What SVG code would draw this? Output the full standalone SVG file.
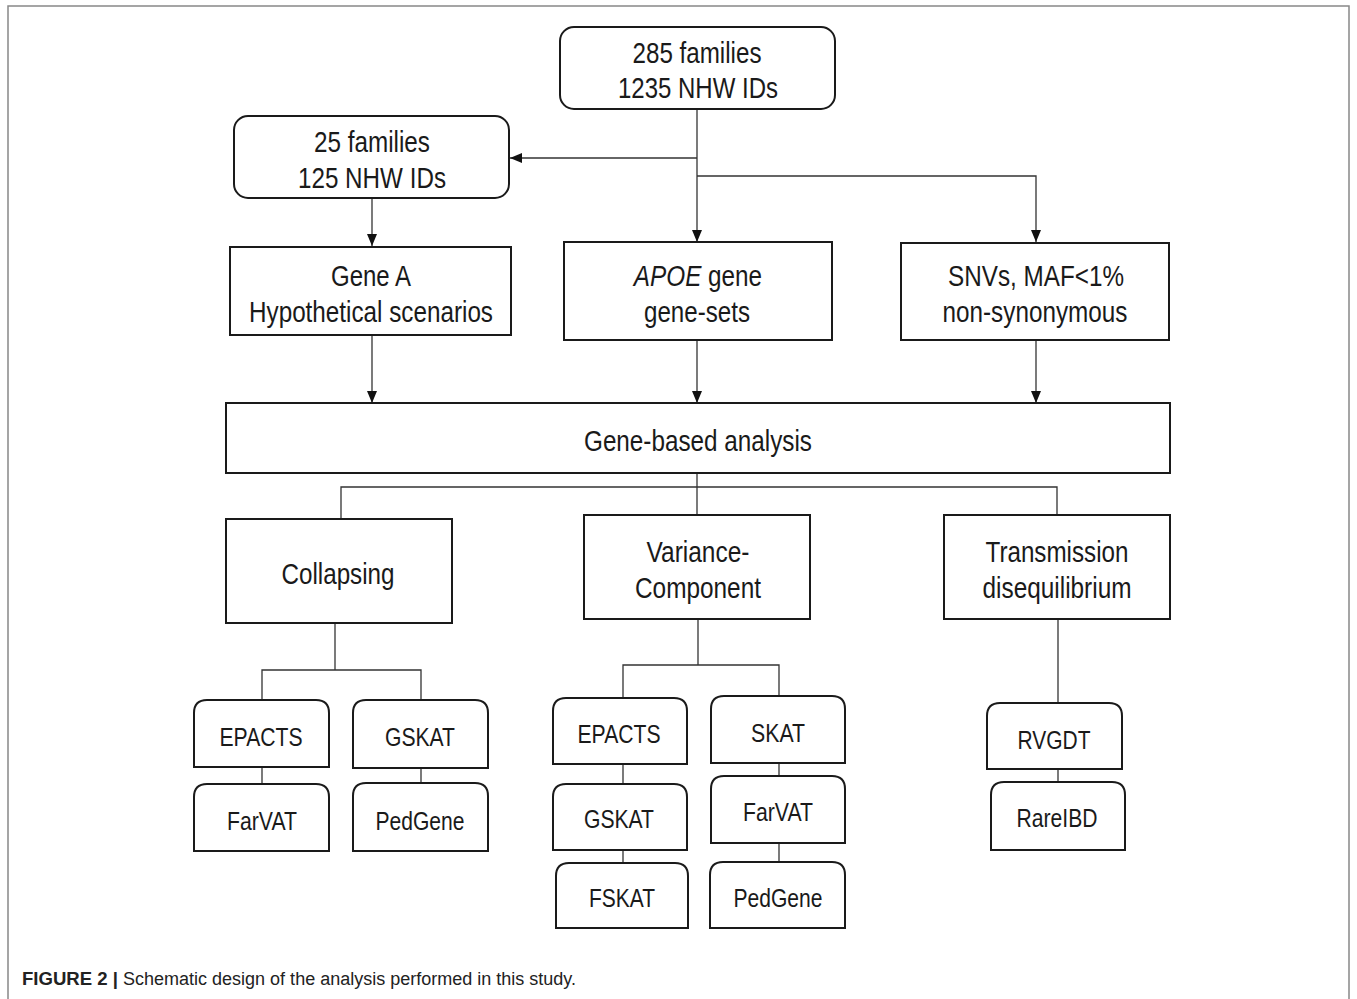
<svg xmlns="http://www.w3.org/2000/svg" width="1357" height="999" viewBox="0 0 1357 999">
<defs>
<marker id="arr" markerWidth="12" markerHeight="12" viewBox="0 0 12 12" refX="12" refY="6" orient="auto" markerUnits="userSpaceOnUse">
<path d="M0,1 L12,6 L0,11 Z" fill="#111"/>
</marker>
<style>
.box{fill:#fff;stroke:#1a1a1a;stroke-width:2}
.con{fill:none;stroke:#333;stroke-width:1.3}
.t{font-family:"Liberation Sans",Arial,sans-serif;font-size:30px;fill:#1a1a1a;text-anchor:middle}
.s{font-family:"Liberation Sans",Arial,sans-serif;font-size:25px;fill:#1a1a1a;text-anchor:middle}
.cap{font-family:"Liberation Sans",Arial,sans-serif;font-size:18px;fill:#222}
</style>
</defs>
<rect width="1357" height="999" fill="#fff"/>
<path d="M8,999 L8,6 L1349,6 L1349,999" fill="none" stroke="#888" stroke-width="1.5"/>

<g id="connectors">
<line class="con" x1="697" y1="109" x2="697" y2="242" marker-end="url(#arr)"/>
<line class="con" x1="697" y1="158" x2="510" y2="158" marker-end="url(#arr)"/>
<polyline class="con" points="697,176 1036,176 1036,242" marker-end="url(#arr)"/>
<line class="con" x1="372" y1="198" x2="372" y2="246" marker-end="url(#arr)"/>
<line class="con" x1="372" y1="335" x2="372" y2="403" marker-end="url(#arr)"/>
<line class="con" x1="697" y1="340" x2="697" y2="403" marker-end="url(#arr)"/>
<line class="con" x1="1036" y1="340" x2="1036" y2="403" marker-end="url(#arr)"/>
<line class="con" x1="697" y1="473" x2="697" y2="515"/>
<polyline class="con" points="341,519 341,487 1057,487 1057,515"/>
<line class="con" x1="335" y1="623" x2="335" y2="670"/>
<polyline class="con" points="262,700 262,670 421,670 421,700"/>
<line class="con" x1="262" y1="767" x2="262" y2="784"/>
<line class="con" x1="421" y1="768" x2="421" y2="783"/>
<line class="con" x1="698" y1="619" x2="698" y2="665"/>
<polyline class="con" points="623,698 623,665 779,665 779,696"/>
<line class="con" x1="623" y1="764" x2="623" y2="784"/>
<line class="con" x1="623" y1="850" x2="623" y2="863"/>
<line class="con" x1="779" y1="763" x2="779" y2="776"/>
<line class="con" x1="779" y1="843" x2="779" y2="862"/>
<line class="con" x1="1058" y1="619" x2="1058" y2="703"/>
<line class="con" x1="1058" y1="769" x2="1058" y2="782"/>
</g>

<g id="n285">
<rect class="box" x="560" y="27" width="275" height="82" rx="14"/>
<text class="t" x="697" y="63" textLength="129" lengthAdjust="spacingAndGlyphs">285 families</text>
<text class="t" x="698" y="98" textLength="160" lengthAdjust="spacingAndGlyphs">1235 NHW IDs</text>
</g>
<g id="n25">
<rect class="box" x="234" y="116" width="275" height="82" rx="14"/>
<text class="t" x="372" y="152" textLength="116" lengthAdjust="spacingAndGlyphs">25 families</text>
<text class="t" x="372" y="188" textLength="148" lengthAdjust="spacingAndGlyphs">125 NHW IDs</text>
</g>
<g id="geneA">
<rect class="box" x="230" y="247" width="281" height="88"/>
<text class="t" x="371" y="286" textLength="80" lengthAdjust="spacingAndGlyphs">Gene A</text>
<text class="t" x="371" y="322" textLength="244" lengthAdjust="spacingAndGlyphs">Hypothetical scenarios</text>
</g>
<g id="apoe">
<rect class="box" x="564" y="242" width="268" height="98"/>
<text class="t" transform="translate(698,286) scale(0.81,1)" x="0" y="0"><tspan font-style="italic">APOE</tspan> gene</text>
<text class="t" x="697" y="322" textLength="106" lengthAdjust="spacingAndGlyphs">gene-sets</text>
</g>
<g id="snvs">
<rect class="box" x="901" y="243" width="268" height="97"/>
<text class="t" x="1036" y="286" textLength="176" lengthAdjust="spacingAndGlyphs">SNVs, MAF&lt;1%</text>
<text class="t" x="1035" y="322" textLength="185" lengthAdjust="spacingAndGlyphs">non-synonymous</text>
</g>
<g id="genebased">
<rect class="box" x="226" y="403" width="944" height="70"/>
<text class="t" x="698" y="451" textLength="228" lengthAdjust="spacingAndGlyphs">Gene-based analysis</text>
</g>
<g id="collapsing">
<rect class="box" x="226" y="519" width="226" height="104"/>
<text class="t" x="338" y="584" textLength="113" lengthAdjust="spacingAndGlyphs">Collapsing</text>
</g>
<g id="variance">
<rect class="box" x="584" y="515" width="226" height="104"/>
<text class="t" x="698" y="562" textLength="103" lengthAdjust="spacingAndGlyphs">Variance-</text>
<text class="t" x="698" y="598" textLength="126" lengthAdjust="spacingAndGlyphs">Component</text>
</g>
<g id="transmission">
<rect class="box" x="944" y="515" width="226" height="104"/>
<text class="t" x="1057" y="562" textLength="143" lengthAdjust="spacingAndGlyphs">Transmission</text>
<text class="t" x="1057" y="598" textLength="149" lengthAdjust="spacingAndGlyphs">disequilibrium</text>
</g>

<g id="c_epacts">
<path class="box" d="M194,767 L194,713 Q194,700 207,700 L316,700 Q329,700 329,713 L329,767 Z"/>
<text class="s" x="261" y="746" textLength="83" lengthAdjust="spacingAndGlyphs">EPACTS</text>
</g>
<g id="c_farvat">
<path class="box" d="M194,851 L194,797 Q194,784 207,784 L316,784 Q329,784 329,797 L329,851 Z"/>
<text class="s" x="262" y="830" textLength="70" lengthAdjust="spacingAndGlyphs">FarVAT</text>
</g>
<g id="c_gskat">
<path class="box" d="M353,768 L353,713 Q353,700 366,700 L475,700 Q488,700 488,713 L488,768 Z"/>
<text class="s" x="420" y="746" textLength="70" lengthAdjust="spacingAndGlyphs">GSKAT</text>
</g>
<g id="c_pedgene">
<path class="box" d="M353,851 L353,796 Q353,783 366,783 L475,783 Q488,783 488,796 L488,851 Z"/>
<text class="s" x="420" y="830" textLength="89" lengthAdjust="spacingAndGlyphs">PedGene</text>
</g>

<g id="v_epacts">
<path class="box" d="M553,764 L553,711 Q553,698 566,698 L674,698 Q687,698 687,711 L687,764 Z"/>
<text class="s" x="619" y="743" textLength="83" lengthAdjust="spacingAndGlyphs">EPACTS</text>
</g>
<g id="v_gskat">
<path class="box" d="M553,850 L553,797 Q553,784 566,784 L674,784 Q687,784 687,797 L687,850 Z"/>
<text class="s" x="619" y="828" textLength="70" lengthAdjust="spacingAndGlyphs">GSKAT</text>
</g>
<g id="v_fskat">
<path class="box" d="M556,928 L556,876 Q556,863 569,863 L675,863 Q688,863 688,876 L688,928 Z"/>
<text class="s" x="622" y="907" textLength="66" lengthAdjust="spacingAndGlyphs">FSKAT</text>
</g>
<g id="v_skat">
<path class="box" d="M711,763 L711,709 Q711,696 724,696 L832,696 Q845,696 845,709 L845,763 Z"/>
<text class="s" x="778" y="742" textLength="54" lengthAdjust="spacingAndGlyphs">SKAT</text>
</g>
<g id="v_farvat">
<path class="box" d="M711,843 L711,789 Q711,776 724,776 L832,776 Q845,776 845,789 L845,843 Z"/>
<text class="s" x="778" y="821" textLength="70" lengthAdjust="spacingAndGlyphs">FarVAT</text>
</g>
<g id="v_pedgene">
<path class="box" d="M710,928 L710,875 Q710,862 723,862 L832,862 Q845,862 845,875 L845,928 Z"/>
<text class="s" x="778" y="907" textLength="89" lengthAdjust="spacingAndGlyphs">PedGene</text>
</g>

<g id="t_rvgdt">
<path class="box" d="M987,769 L987,716 Q987,703 1000,703 L1109,703 Q1122,703 1122,716 L1122,769 Z"/>
<text class="s" x="1054" y="749" textLength="73" lengthAdjust="spacingAndGlyphs">RVGDT</text>
</g>
<g id="t_rareibd">
<path class="box" d="M991,850 L991,795 Q991,782 1004,782 L1112,782 Q1125,782 1125,795 L1125,850 Z"/>
<text class="s" x="1057" y="827" textLength="81" lengthAdjust="spacingAndGlyphs">RareIBD</text>
</g>

<g id="caption">
<text class="cap" x="22" y="985" font-weight="bold" textLength="96" lengthAdjust="spacingAndGlyphs">FIGURE 2 |</text>
<text class="cap" x="123" y="985" textLength="453" lengthAdjust="spacingAndGlyphs">Schematic design of the analysis performed in this study.</text>
</g>
</svg>
